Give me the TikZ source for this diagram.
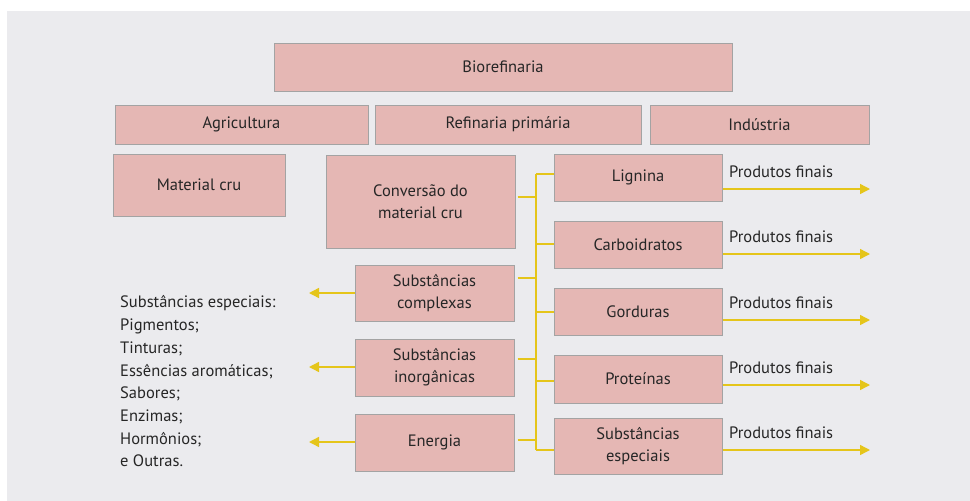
\documentclass[tikz,border=0pt]{standalone}
\usepackage{fontspec}
\setmainfont{PT Sans}
\usetikzlibrary{arrows.meta}
\definecolor{bgc}{HTML}{EBEBEE}
\definecolor{boxc}{HTML}{E5B7B4}
\definecolor{edgec}{HTML}{A3A3A3}
\definecolor{ylc}{HTML}{E5C51A}
\definecolor{txc}{HTML}{262626}
\tikzset{
  box/.style={draw=edgec, fill=boxc, line width=1pt, inner sep=0pt, align=center,
    text=txc, font=\fontsize{16.5}{21.7}\selectfont},
  lbl/.style={inner sep=0pt, text=txc, font=\fontsize{16.5}{21.7}\selectfont, anchor=west},
  yl/.style={draw=ylc, line width=1.4pt},
  ya/.style={yl, -{Triangle[length=10pt,width=10pt]}},
}
\begin{document}
\begin{tikzpicture}[x=1pt,y=-1pt]
\useasboundingbox (0,0) rectangle (970,501);
\fill[bgc] (7,11) rectangle (970,501);
% top rows
\node[box, minimum width=458pt, minimum height=48pt] (bio) at (503,67) {Biorefinaria};
\node[box, minimum width=253pt, minimum height=39pt] (agri) at (241.5,124.5) {Agricultura};
\node[box, minimum width=266pt, minimum height=39pt] (refi) at (508,124.5) {Refinaria primária};
\node[box, minimum width=219pt, minimum height=39pt] (ind) at (759.5,124.5) {Indústria};
\node[box, minimum width=172pt, minimum height=62pt] (mat) at (199,185) {Material cru};
\node[box, minimum width=189pt, minimum height=93pt] (conv) at (420.5,201.5) {Conversão do\\material cru};
% right column
\node[box, minimum width=168pt, minimum height=47pt] (lig) at (638,177.5) {Lignina};
\node[box, minimum width=168pt, minimum height=47pt] (carb) at (638,244.5) {Carboidratos};
\node[box, minimum width=168pt, minimum height=47pt] (gord) at (638,311.5) {Gorduras};
\node[box, minimum width=168pt, minimum height=48pt] (prot) at (638,379) {Proteínas};
\node[box, minimum width=168pt, minimum height=56pt] (sesp) at (638,446) {Substâncias\\especiais};
% middle column
\node[box, minimum width=159pt, minimum height=56pt] (scomp) at (434.5,293) {Substâncias\\complexas};
\node[box, minimum width=159pt, minimum height=57pt] (sinorg) at (434.5,367.5) {Substâncias\\inorgânicas};
\node[box, minimum width=159pt, minimum height=57pt] (ener) at (434.5,442.5) {Energia};
% list
\node[lbl, align=left, font=\fontsize{16.5}{22.7}\selectfont] (lista) at (120,381.5)
  {Substâncias especiais:\\Pigmentos;\\Tinturas;\\Essências aromáticas;\\Sabores;\\Enzimas;\\Hormônios;\\e Outras.};
% trunk
\coordinate (ttop) at (536,174);
\coordinate (tbot) at (536,450);
\draw[yl] (ttop) -- (tbot);
\draw[yl] ([xshift=2pt]conv.east |- 0,197) -- (ttop |- 0,197);
\draw[yl] ([xshift=3pt]scomp.east |- 0,278) -- (ttop |- 0,278);
\draw[yl] ([xshift=3pt]sinorg.east |- 0,359) -- (ttop |- 0,359);
\draw[yl] ([xshift=3pt]ener.east |- 0,440) -- (ttop |- 0,440);
\draw[yl] (ttop) -- (lig.west |- ttop);
\draw[yl] (ttop |- 0,244) -- (carb.west |- 0,244);
\draw[yl] (ttop |- 0,312) -- (gord.west |- 0,312);
\draw[yl] (ttop |- 0,381) -- (prot.west |- 0,381);
\draw[yl] (tbot) -- (sesp.west |- tbot);
% left arrows
\coordinate (lt) at (309,0);
\draw[ya] (scomp.west |- 0,293) -- (lt |- 0,293);
\draw[ya] (sinorg.west |- 0,367) -- (lt |- 0,367);
\draw[ya] (ener.west |- 0,442) -- (lt |- 0,442);
% right arrows and labels
\coordinate (rt) at (870,0);
\foreach \b/\ay/\ty in {lig/189/172, carb/254/237, gord/320/303, prot/385/368, sesp/450/433}{
  \node[lbl] (pf\b) at (729,\ty) {Produtos finais};
  \draw[ya] (\b.east |- 0,\ay) -- (rt |- 0,\ay);
}
\end{tikzpicture}
\end{document}
